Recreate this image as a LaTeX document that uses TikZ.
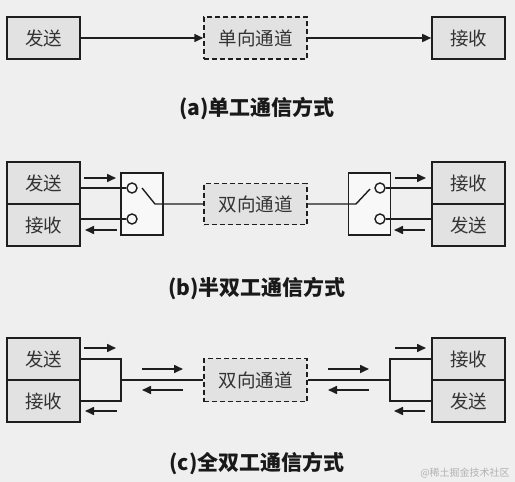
\documentclass[tikz,border=0pt]{standalone}
\usepackage{fontspec}
\newfontfamily\cjk{Noto Sans CJK SC}
\usetikzlibrary{arrows.meta}
\definecolor{bg}{HTML}{EFEFEF}
\definecolor{boxgray}{HTML}{E2E2E2}
\definecolor{swfill}{HTML}{F8F8F8}
\definecolor{ink}{HTML}{1E1E1E}
\begin{document}
\begin{tikzpicture}[x=1pt,y=-1pt,
  box/.style={draw=ink,line width=1.6pt,fill=boxgray,minimum width=73pt,minimum height=42pt,inner sep=0pt,font=\cjk\fontsize{18.5}{18.5}\selectfont,text=black!80},
  chan/.style={draw=ink,dash pattern=on 5pt off 3pt,line width=1.5pt,fill=boxgray,minimum width=103pt,minimum height=42pt,inner sep=0pt,font=\cjk\fontsize{18.5}{18.5}\selectfont,text=black!80},
  sw/.style={draw=ink,line width=1.6pt,fill=swfill,minimum width=42pt,minimum height=62pt,inner sep=0pt},
  dot/.style={circle,draw=ink,line width=1.4pt,fill=swfill,minimum size=10pt,inner sep=0pt},
  wire/.style={draw=ink,line width=1.4pt},
  arr/.style={draw=ink,line width=1.6pt,-{Triangle[length=9pt,width=8pt]}},
  captext/.style={font=\cjk\bfseries\fontsize{21}{21}\selectfont,text=black!90}]
\fill[bg] (0,0) rectangle (515,482);
\useasboundingbox (0,0) rectangle (515,482);
% (a)
\node[box] (sa) at (43.5,38) {发送};
\node[chan] (ca) at (255.5,38) {单向通道};
\node[box] (ra) at (468.5,38) {接收};
\draw[arr] (sa) -- (ca);
\draw[arr] (ca) -- (ra);
\node[captext] (capa) at (257,108) {(a)单工通信方式};
% (b)
\node[box] (sbL) at (43.5,183) {发送};
\node[box] (rbL) at (43.5,225) {接收};
\node[sw] (swL) at (142,204) {};
\node[dot] (d1) at (132,188) {};
\node[dot] (d2) at (132,219) {};
\draw[wire] (sbL.east |- d1) -- (d1.west);
\draw[wire] (rbL.east |- d2) -- (d2.west);
\node[chan,minimum height=41pt] (cb) at (255.5,204) {双向通道};
\coordinate (l1) at (142,188);
\coordinate (l2) at (155,204);
\draw[wire] (l1) -- (l2) -- (cb.west);
\node[sw] (swR) at (369.5,204) {};
\node[dot] (d3) at (380,188) {};
\node[dot] (d4) at (380,219) {};
\node[box] (rbR) at (468.5,183) {接收};
\node[box] (sbR) at (468.5,225) {发送};
\draw[wire] (d3.east) -- (d3.east -| rbR.west);
\draw[wire] (d4.east) -- (d4.east -| sbR.west);
\coordinate (l3) at (356,204);
\coordinate (l4) at (370,189);
\draw[wire] (cb.east) -- (l3) -- (l4);
\coordinate (b1s) at (84,178); \coordinate (b1e) at (116,178);
\coordinate (b2s) at (117,230); \coordinate (b2e) at (85,230);
\coordinate (b3s) at (395,178); \coordinate (b3e) at (426,178);
\coordinate (b4s) at (425,230); \coordinate (b4e) at (394,230);
\draw[arr] (b1s) -- (b1e);
\draw[arr] (b2s) -- (b2e);
\draw[arr] (b3s) -- (b3e);
\draw[arr] (b4s) -- (b4e);
\node[captext] (capb) at (257,288) {(b)半双工通信方式};
% (c)
\node[box] (scL) at (43.5,359) {发送};
\node[box] (rcL) at (43.5,401) {接收};
\node[chan,minimum height=43pt] (cc) at (255.5,380) {双向通道};
\coordinate (bL) at (121,380);
\draw[wire] (scL.east) -- (scL.east -| bL) -- (rcL.east -| bL) -- (rcL.east);
\draw[wire] (bL) -- (cc.west);
\node[box] (rcR) at (468.5,359) {接收};
\node[box] (scR) at (468.5,401) {发送};
\coordinate (bR) at (390,380);
\draw[wire] (rcR.west) -- (rcR.west -| bR) -- (scR.west -| bR) -- (scR.west);
\draw[wire] (cc.east) -- (bR);
\coordinate (c1s) at (84,348); \coordinate (c1e) at (116,348);
\coordinate (c2s) at (117,411); \coordinate (c2e) at (85,411);
\coordinate (c3s) at (142,369); \coordinate (c3e) at (183,369);
\coordinate (c4s) at (183,390); \coordinate (c4e) at (142,390);
\coordinate (c5s) at (328,369); \coordinate (c5e) at (369,369);
\coordinate (c6s) at (369,390); \coordinate (c6e) at (328,390);
\coordinate (c7s) at (395,348); \coordinate (c7e) at (426,348);
\coordinate (c8s) at (425,411); \coordinate (c8e) at (394,411);
\foreach \a in {1,...,8} {\draw[arr] (c\a s) -- (c\a e);}
\node[captext] (capc) at (257,463) {(c)全双工通信方式};
\node[font=\cjk\fontsize{10}{10}\selectfont,text=black!30] (wm) at (465,473) {@稀土掘金技术社区};
\end{tikzpicture}
\end{document}
